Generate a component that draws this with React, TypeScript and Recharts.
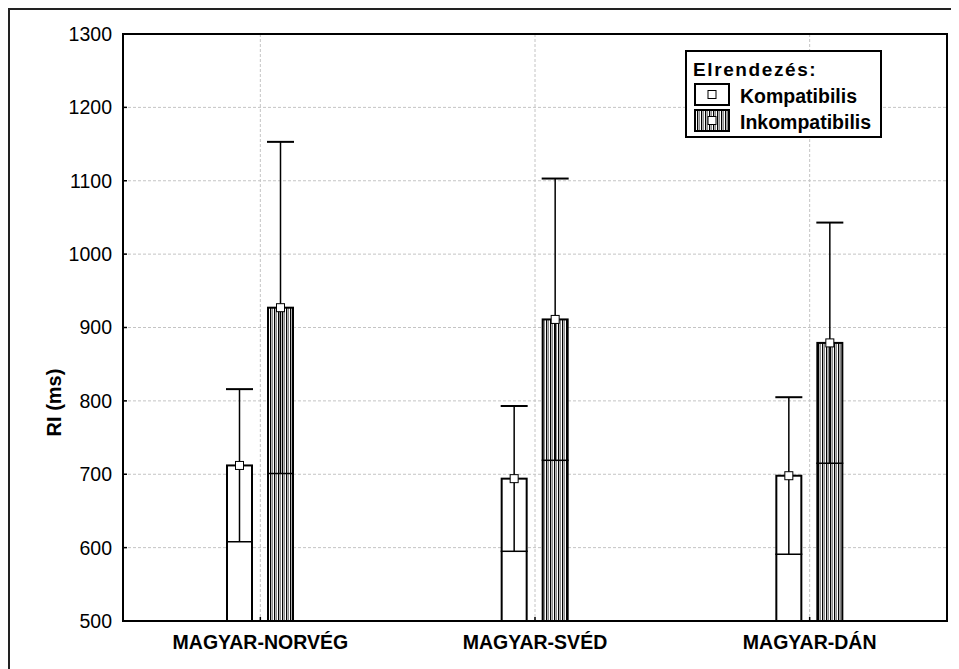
import React from 'react';
import { BarChart, Bar, XAxis, YAxis, CartesianGrid, Legend, ReferenceArea } from 'recharts';

const categories = ['MAGYAR-NORVÉG', 'MAGYAR-SVÉD', 'MAGYAR-DÁN'];
const compMean = [712, 694, 698];
const compSD = [104, 99, 107];
const incompMean = [927, 911, 879];
const incompSD = [226, 192, 164];
const yTicks = [500, 600, 700, 800, 900, 1000, 1100, 1200, 1300];
const legendTitle = 'Elrendezés:';
const seriesNames = ['Kompatibilis', 'Inkompatibilis'];

const Y_MIN = yTicks[0];
const Y_MAX = yTicks[yTicks.length - 1];
const FONT = "'Liberation Sans', Arial, sans-serif";

const data = categories.map((c, i) => ({
  name: c,
  comp: compMean[i],
  compSD: compSD[i],
  incomp: incompMean[i],
  incompSD: incompSD[i],
}));

const Hatch = ({ id }: { id: string }) => (
  <defs>
    <pattern id={id} width={4} height={10} patternUnits="userSpaceOnUse">
      <rect width={4} height={10} fill="#fff" />
      <rect x={0} width={1.3} height={10} fill="#000" />
      <rect x={2} width={1} height={10} fill="#8a8a8a" />
    </pattern>
  </defs>
);

const makeShape = (meanKey: string, sdKey: string, hatched: boolean) => (props: any) => {
  const { x, y, width, height, payload } = props;
  const mean = payload[meanKey];
  const sd = payload[sdKey];
  const ppu = height / (mean - Y_MIN);
  const cx = x + width / 2;
  const yHigh = y - sd * ppu;
  const yLow = y + sd * ppu;
  return (
    <g>
      <rect
        x={x + 1}
        y={y}
        width={width - 2}
        height={height}
        fill={hatched ? 'url(#vhatch)' : '#fff'}
        stroke="#000"
        strokeWidth={2}
      />
      <line x1={cx} x2={cx} y1={yLow} y2={yHigh} stroke="#000" strokeWidth={1.5} />
      <line x1={x} x2={x + width} y1={yLow} y2={yLow} stroke="#000" strokeWidth={1.5} />
      <line x1={x} x2={x + width} y1={yHigh} y2={yHigh} stroke="#000" strokeWidth={2} />
      <rect x={cx - 4} y={y - 4} width={8} height={8} fill="#fff" stroke="#000" strokeWidth={1} />
    </g>
  );
};

const LegendBox = () => (
  <svg width={197} height={88} style={{ display: 'block' }}>
    <Hatch id="vhatch-legend" />
    <rect x={1} y={1} width={195} height={86} fill="#fff" stroke="#000" strokeWidth={2} />
    <text x={8} y={26} fontFamily={FONT} fontWeight="bold" fontSize={19} letterSpacing={1.6} fill="#000">
      {legendTitle}
    </text>
    <rect x={10} y={34} width={34} height={21} fill="#fff" stroke="#000" strokeWidth={2} />
    <rect x={23} y={40.5} width={8} height={8} fill="#fff" stroke="#000" strokeWidth={1} />
    <text x={55} y={53} fontFamily={FONT} fontWeight="bold" fontSize={19.5} fill="#000">
      {seriesNames[0]}
    </text>
    <rect x={10} y={60} width={34} height={21} fill="url(#vhatch-legend)" stroke="#000" strokeWidth={2} />
    <rect x={23} y={66.5} width={8} height={8} fill="#fff" stroke="#000" strokeWidth={1} />
    <text x={55} y={79} fontFamily={FONT} fontWeight="bold" fontSize={19.5} fill="#000">
      {seriesNames[1]}
    </text>
  </svg>
);

const YLabel = (props: any) => {
  const vb = props.viewBox || { x: 0, y: 0, width: 0, height: 0 };
  const lx = vb.x + 44;
  const ly = vb.y + vb.height / 2 + 75;
  return (
    <text
      x={lx}
      y={ly}
      transform={`rotate(-90, ${lx}, ${ly})`}
      textAnchor="middle"
      dominantBaseline="central"
      fontFamily={FONT}
      fontWeight="bold"
      fontSize={20}
      fill="#000"
    >
      RI (ms)
    </text>
  );
};

export default function App() {
  return (
    <div style={{ position: 'relative', width: 951, height: 661 }}>
      <style>{'html,body{overflow:hidden;}'}</style>
      <div style={{ position: 'absolute', left: 0, top: 0, width: 951, height: 2, background: '#222' }} />
      <div style={{ position: 'absolute', left: 0, top: 0, width: 2, height: 661, background: '#222' }} />
      <div style={{ position: 'absolute', left: 2, top: 2 }}>
        <BarChart
          width={939}
          height={651}
          data={data}
          margin={{ top: 24, right: 2, left: 0, bottom: 10 }}
          barSize={27}
          barGap={14}
          style={{ fontFamily: FONT }}
        >
          <Hatch id="vhatch" />
          <CartesianGrid stroke="#c4c4c4" strokeDasharray="3 2" strokeWidth={1} />
          <XAxis
            dataKey="name"
            height={30}
            tickLine={{ stroke: '#000', strokeWidth: 1.5 }}
            tickSize={-4}
            tickMargin={18}
            axisLine={{ stroke: '#000', strokeWidth: 2 }}
            tick={{ fill: '#000', fontSize: 19.5, fontWeight: 'bold', fontFamily: FONT }}
          />
          <YAxis
            width={113}
            domain={[Y_MIN, Y_MAX]}
            ticks={yTicks}
            interval={0}
            tickLine={{ stroke: '#000', strokeWidth: 1.5 }}
            tickSize={-4}
            tickMargin={15}
            axisLine={{ stroke: '#000', strokeWidth: 2 }}
            tick={{ fill: '#000', fontSize: 19.5, fontFamily: FONT }}
            label={<YLabel />}
          />
          <ReferenceArea y1={Y_MIN} y2={Y_MAX} fill="none" stroke="#000" strokeWidth={2} ifOverflow="visible" />
          <Bar
            dataKey="comp"
            name={seriesNames[0]}
            isAnimationActive={false}
            shape={makeShape('comp', 'compSD', false)}
            legendType="none"
          />
          <Bar
            dataKey="incomp"
            name={seriesNames[1]}
            isAnimationActive={false}
            shape={makeShape('incomp', 'incompSD', true)}
            legendType="none"
          />
          <Legend
            layout="horizontal"
            verticalAlign="middle"
            align="center"
            content={<LegendBox />}
            wrapperStyle={{ left: 675, top: 40, width: 197, height: 88 }}
          />
        </BarChart>
      </div>
    </div>
  );
}
